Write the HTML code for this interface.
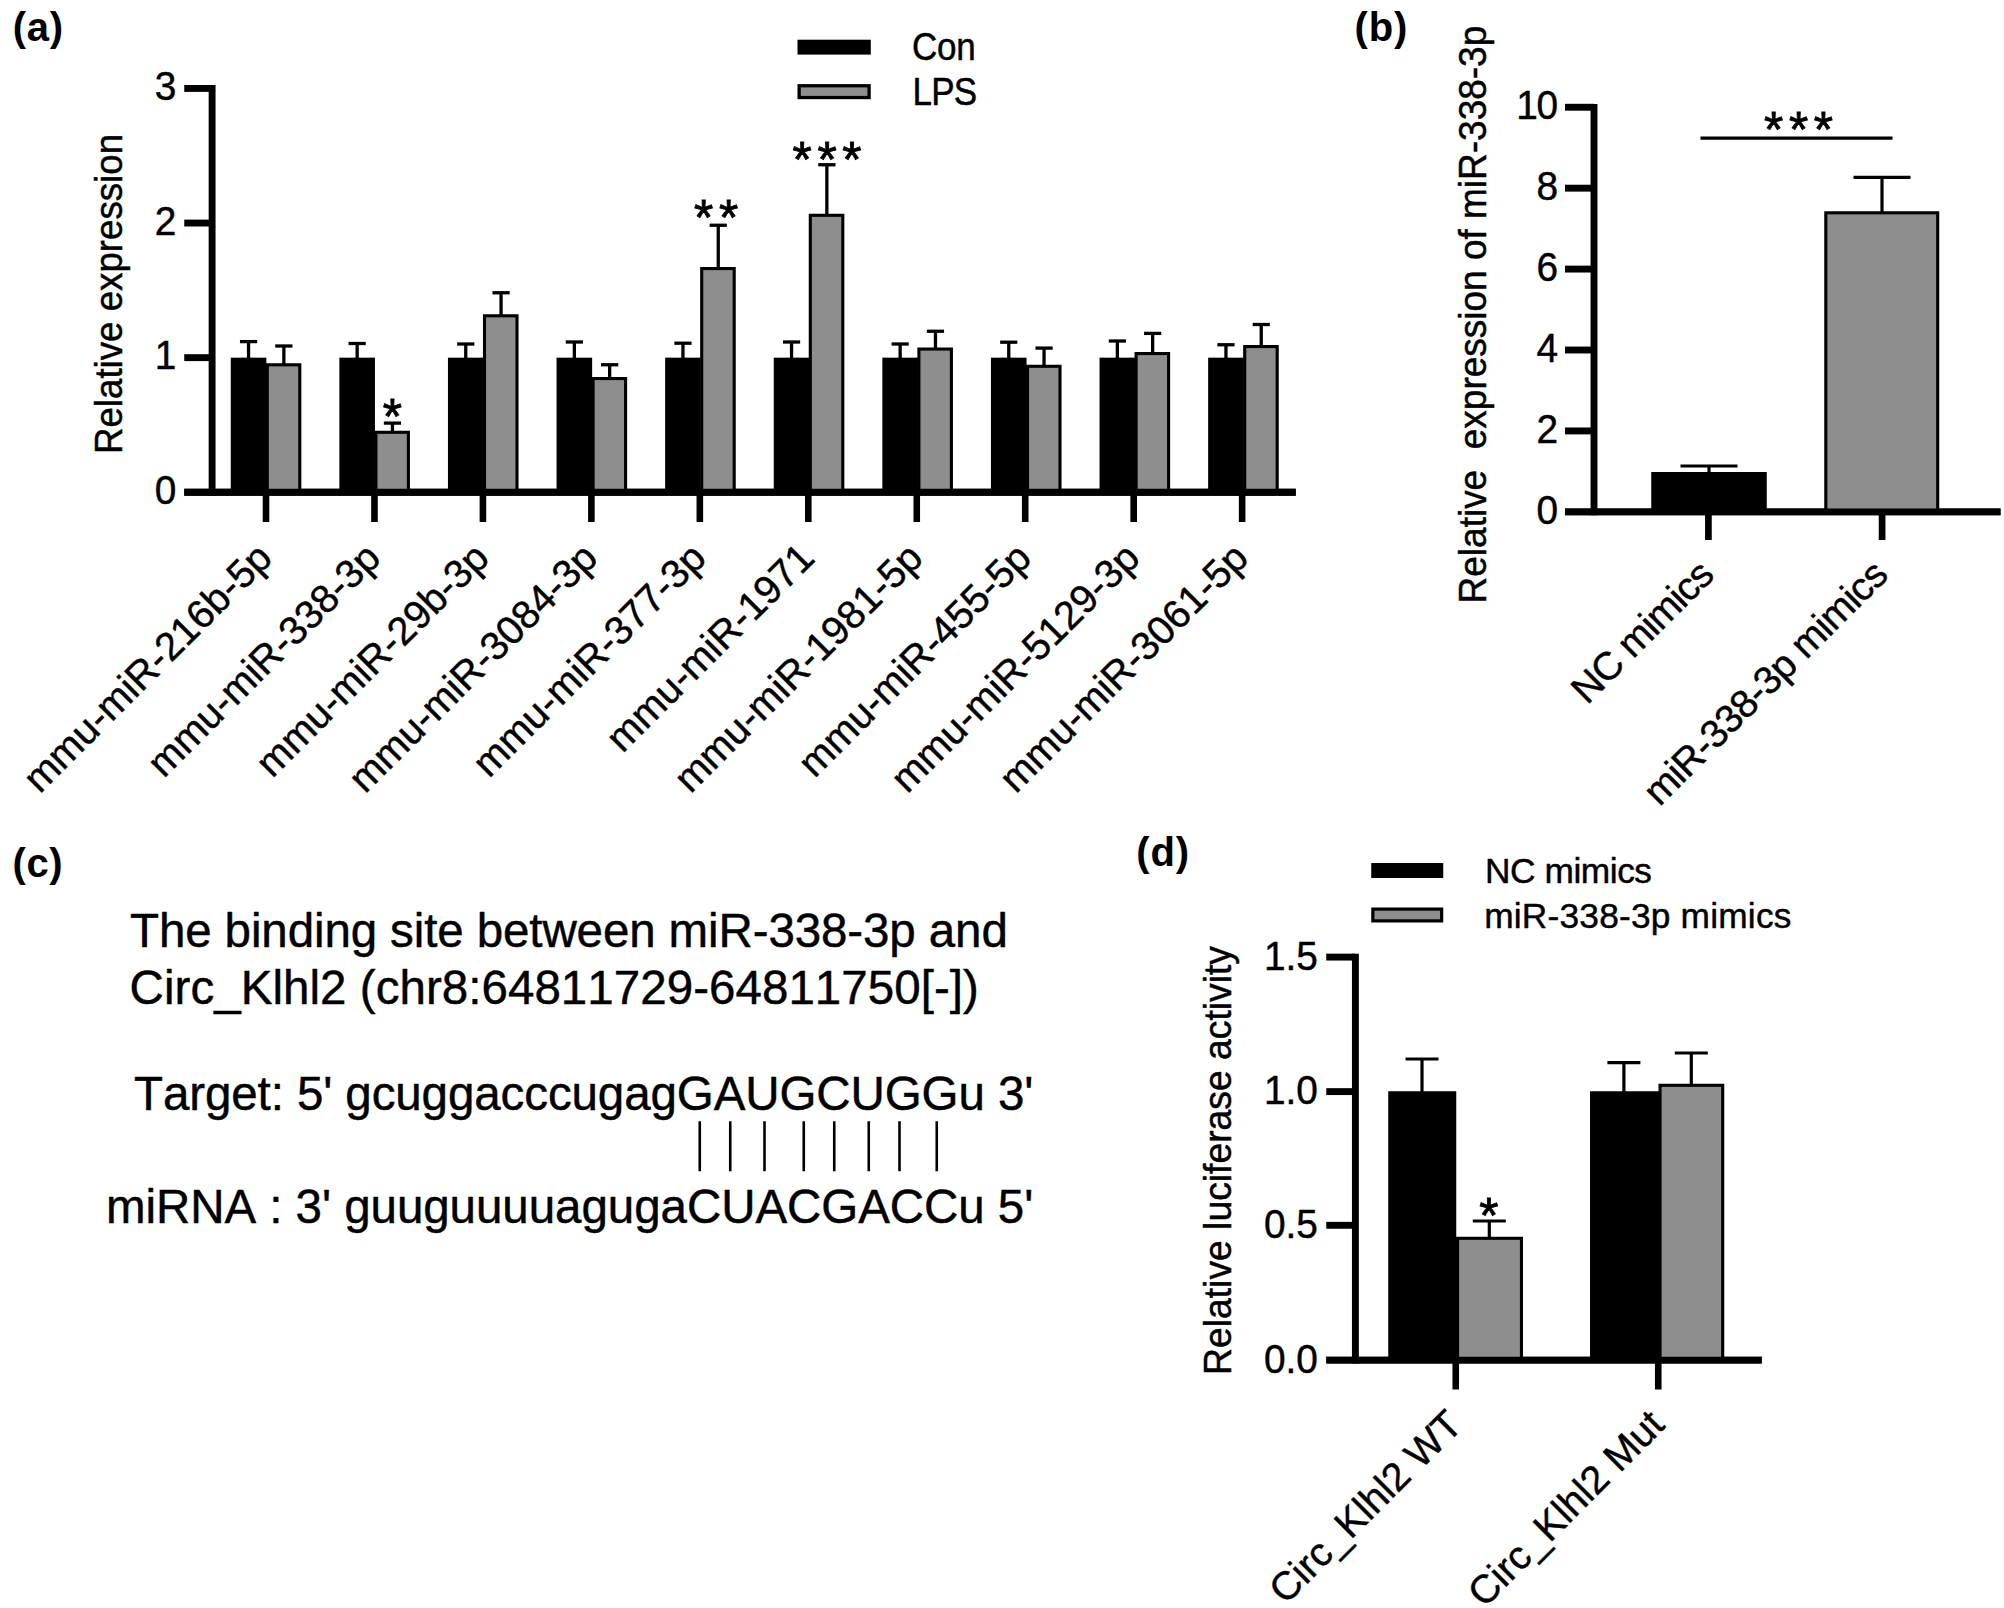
<!DOCTYPE html>
<html lang="en">
<head>
<meta charset="utf-8">
<title>Figure: miR-338-3p and Circ_Klhl2</title>
<style>
html,body{margin:0;padding:0;background:#fff;}
svg{display:block;}
text{font-family:"Liberation Sans",Arial,Helvetica,sans-serif;fill:#000;white-space:pre;font-kerning:none;stroke:#000;stroke-width:0.45px;stroke-linejoin:round;}
text.lab{stroke-width:0;}
text.star{stroke-width:0.85px;stroke-linejoin:miter;}
</style>
</head>
<body>
<svg width="2004" height="1608" viewBox="0 0 2004 1608">
<rect x="0" y="0" width="2004" height="1608" fill="#fff"/>
<text x="12.80" y="40.60" font-size="40" font-weight="bold" class="lab" letter-spacing="0.7">(a)</text>
<line x1="212.10" y1="85.00" x2="212.10" y2="495.70" stroke="#000" stroke-width="6.9"/>
<line x1="184.25" y1="492.25" x2="1295.75" y2="492.25" stroke="#000" stroke-width="6.9"/>
<text transform="translate(176.40 504.05) scale(1.0 1.045)" font-size="38.8" text-anchor="end">0</text>
<line x1="184.25" y1="357.65" x2="212.10" y2="357.65" stroke="#000" stroke-width="6.9"/>
<text transform="translate(176.40 369.45) scale(1.0 1.045)" font-size="38.8" text-anchor="end">1</text>
<line x1="184.25" y1="223.05" x2="212.10" y2="223.05" stroke="#000" stroke-width="6.9"/>
<text transform="translate(176.40 234.85) scale(1.0 1.045)" font-size="38.8" text-anchor="end">2</text>
<line x1="184.25" y1="88.45" x2="212.10" y2="88.45" stroke="#000" stroke-width="6.9"/>
<text transform="translate(176.40 100.25) scale(1.0 1.045)" font-size="38.8" text-anchor="end">3</text>
<text transform="translate(122.00 294.00) rotate(-90) scale(1.0 1.045)" font-size="36.7" text-anchor="middle">Relative expression</text>
<line x1="248.55" y1="341.60" x2="248.55" y2="360.00" stroke="#000" stroke-width="3.3"/>
<line x1="239.95" y1="341.60" x2="257.15" y2="341.60" stroke="#000" stroke-width="3.3"/>
<line x1="283.85" y1="346.00" x2="283.85" y2="365.25" stroke="#000" stroke-width="3.3"/>
<line x1="275.25" y1="346.00" x2="292.45" y2="346.00" stroke="#000" stroke-width="3.3"/>
<rect x="230.75" y="357.65" width="35.60" height="134.60" fill="#000"/>
<rect x="267.30" y="364.80" width="32.50" height="126.90" fill="#8e8e8e" stroke="#000" stroke-width="3.1"/>
<line x1="266.00" y1="492.25" x2="266.00" y2="522.00" stroke="#000" stroke-width="6.6"/>
<text x="274.20" y="560.00" font-size="39.8" text-anchor="end" transform="rotate(-45 274.20 560.00)">mmu-miR-216b-5p</text>
<line x1="357.15" y1="343.50" x2="357.15" y2="360.00" stroke="#000" stroke-width="3.3"/>
<line x1="348.55" y1="343.50" x2="365.75" y2="343.50" stroke="#000" stroke-width="3.3"/>
<line x1="392.45" y1="423.10" x2="392.45" y2="432.75" stroke="#000" stroke-width="3.3"/>
<line x1="383.85" y1="423.10" x2="401.05" y2="423.10" stroke="#000" stroke-width="3.3"/>
<rect x="339.35" y="357.65" width="35.60" height="134.60" fill="#000"/>
<rect x="375.90" y="432.30" width="32.50" height="59.40" fill="#8e8e8e" stroke="#000" stroke-width="3.1"/>
<line x1="374.46" y1="492.25" x2="374.46" y2="522.00" stroke="#000" stroke-width="6.6"/>
<text x="382.66" y="560.00" font-size="39.8" text-anchor="end" transform="rotate(-45 382.66 560.00)">mmu-miR-338-3p</text>
<line x1="465.75" y1="344.00" x2="465.75" y2="360.00" stroke="#000" stroke-width="3.3"/>
<line x1="457.15" y1="344.00" x2="474.35" y2="344.00" stroke="#000" stroke-width="3.3"/>
<line x1="501.05" y1="292.75" x2="501.05" y2="316.25" stroke="#000" stroke-width="3.3"/>
<line x1="492.45" y1="292.75" x2="509.65" y2="292.75" stroke="#000" stroke-width="3.3"/>
<rect x="447.95" y="357.65" width="35.60" height="134.60" fill="#000"/>
<rect x="484.50" y="315.80" width="32.50" height="175.90" fill="#8e8e8e" stroke="#000" stroke-width="3.1"/>
<line x1="482.92" y1="492.25" x2="482.92" y2="522.00" stroke="#000" stroke-width="6.6"/>
<text x="491.12" y="560.00" font-size="39.8" text-anchor="end" transform="rotate(-45 491.12 560.00)">mmu-miR-29b-3p</text>
<line x1="574.35" y1="342.00" x2="574.35" y2="360.00" stroke="#000" stroke-width="3.3"/>
<line x1="565.75" y1="342.00" x2="582.95" y2="342.00" stroke="#000" stroke-width="3.3"/>
<line x1="609.65" y1="364.75" x2="609.65" y2="379.00" stroke="#000" stroke-width="3.3"/>
<line x1="601.05" y1="364.75" x2="618.25" y2="364.75" stroke="#000" stroke-width="3.3"/>
<rect x="556.55" y="357.65" width="35.60" height="134.60" fill="#000"/>
<rect x="593.10" y="378.55" width="32.50" height="113.15" fill="#8e8e8e" stroke="#000" stroke-width="3.1"/>
<line x1="591.38" y1="492.25" x2="591.38" y2="522.00" stroke="#000" stroke-width="6.6"/>
<text x="599.58" y="560.00" font-size="39.8" text-anchor="end" transform="rotate(-45 599.58 560.00)">mmu-miR-3084-3p</text>
<line x1="682.95" y1="343.20" x2="682.95" y2="360.00" stroke="#000" stroke-width="3.3"/>
<line x1="674.35" y1="343.20" x2="691.55" y2="343.20" stroke="#000" stroke-width="3.3"/>
<line x1="718.25" y1="225.25" x2="718.25" y2="269.00" stroke="#000" stroke-width="3.3"/>
<line x1="709.65" y1="225.25" x2="726.85" y2="225.25" stroke="#000" stroke-width="3.3"/>
<rect x="665.15" y="357.65" width="35.60" height="134.60" fill="#000"/>
<rect x="701.70" y="268.55" width="32.50" height="223.15" fill="#8e8e8e" stroke="#000" stroke-width="3.1"/>
<line x1="699.84" y1="492.25" x2="699.84" y2="522.00" stroke="#000" stroke-width="6.6"/>
<text x="708.04" y="560.00" font-size="39.8" text-anchor="end" transform="rotate(-45 708.04 560.00)">mmu-miR-377-3p</text>
<line x1="791.55" y1="342.00" x2="791.55" y2="360.00" stroke="#000" stroke-width="3.3"/>
<line x1="782.95" y1="342.00" x2="800.15" y2="342.00" stroke="#000" stroke-width="3.3"/>
<line x1="826.85" y1="164.75" x2="826.85" y2="215.75" stroke="#000" stroke-width="3.3"/>
<line x1="818.25" y1="164.75" x2="835.45" y2="164.75" stroke="#000" stroke-width="3.3"/>
<rect x="773.75" y="357.65" width="35.60" height="134.60" fill="#000"/>
<rect x="810.30" y="215.30" width="32.50" height="276.40" fill="#8e8e8e" stroke="#000" stroke-width="3.1"/>
<line x1="808.30" y1="492.25" x2="808.30" y2="522.00" stroke="#000" stroke-width="6.6"/>
<text x="816.50" y="560.00" font-size="39.8" text-anchor="end" transform="rotate(-45 816.50 560.00)">mmu-miR-1971</text>
<line x1="900.15" y1="344.00" x2="900.15" y2="360.00" stroke="#000" stroke-width="3.3"/>
<line x1="891.55" y1="344.00" x2="908.75" y2="344.00" stroke="#000" stroke-width="3.3"/>
<line x1="935.45" y1="331.25" x2="935.45" y2="349.50" stroke="#000" stroke-width="3.3"/>
<line x1="926.85" y1="331.25" x2="944.05" y2="331.25" stroke="#000" stroke-width="3.3"/>
<rect x="882.35" y="357.65" width="35.60" height="134.60" fill="#000"/>
<rect x="918.90" y="349.05" width="32.50" height="142.65" fill="#8e8e8e" stroke="#000" stroke-width="3.1"/>
<line x1="916.76" y1="492.25" x2="916.76" y2="522.00" stroke="#000" stroke-width="6.6"/>
<text x="924.96" y="560.00" font-size="39.8" text-anchor="end" transform="rotate(-45 924.96 560.00)">mmu-miR-1981-5p</text>
<line x1="1008.75" y1="342.20" x2="1008.75" y2="360.00" stroke="#000" stroke-width="3.3"/>
<line x1="1000.15" y1="342.20" x2="1017.35" y2="342.20" stroke="#000" stroke-width="3.3"/>
<line x1="1044.05" y1="348.10" x2="1044.05" y2="366.75" stroke="#000" stroke-width="3.3"/>
<line x1="1035.45" y1="348.10" x2="1052.65" y2="348.10" stroke="#000" stroke-width="3.3"/>
<rect x="990.95" y="357.65" width="35.60" height="134.60" fill="#000"/>
<rect x="1027.50" y="366.30" width="32.50" height="125.40" fill="#8e8e8e" stroke="#000" stroke-width="3.1"/>
<line x1="1025.22" y1="492.25" x2="1025.22" y2="522.00" stroke="#000" stroke-width="6.6"/>
<text x="1033.42" y="560.00" font-size="39.8" text-anchor="end" transform="rotate(-45 1033.42 560.00)">mmu-miR-455-5p</text>
<line x1="1117.35" y1="341.00" x2="1117.35" y2="360.00" stroke="#000" stroke-width="3.3"/>
<line x1="1108.75" y1="341.00" x2="1125.95" y2="341.00" stroke="#000" stroke-width="3.3"/>
<line x1="1152.65" y1="333.40" x2="1152.65" y2="354.00" stroke="#000" stroke-width="3.3"/>
<line x1="1144.05" y1="333.40" x2="1161.25" y2="333.40" stroke="#000" stroke-width="3.3"/>
<rect x="1099.55" y="357.65" width="35.60" height="134.60" fill="#000"/>
<rect x="1136.10" y="353.55" width="32.50" height="138.15" fill="#8e8e8e" stroke="#000" stroke-width="3.1"/>
<line x1="1133.68" y1="492.25" x2="1133.68" y2="522.00" stroke="#000" stroke-width="6.6"/>
<text x="1141.88" y="560.00" font-size="39.8" text-anchor="end" transform="rotate(-45 1141.88 560.00)">mmu-miR-5129-3p</text>
<line x1="1225.95" y1="344.75" x2="1225.95" y2="360.00" stroke="#000" stroke-width="3.3"/>
<line x1="1217.35" y1="344.75" x2="1234.55" y2="344.75" stroke="#000" stroke-width="3.3"/>
<line x1="1261.25" y1="324.50" x2="1261.25" y2="347.00" stroke="#000" stroke-width="3.3"/>
<line x1="1252.65" y1="324.50" x2="1269.85" y2="324.50" stroke="#000" stroke-width="3.3"/>
<rect x="1208.15" y="357.65" width="35.60" height="134.60" fill="#000"/>
<rect x="1244.70" y="346.55" width="32.50" height="145.15" fill="#8e8e8e" stroke="#000" stroke-width="3.1"/>
<line x1="1242.14" y1="492.25" x2="1242.14" y2="522.00" stroke="#000" stroke-width="6.6"/>
<text x="1250.34" y="560.00" font-size="39.8" text-anchor="end" transform="rotate(-45 1250.34 560.00)">mmu-miR-3061-5p</text>
<line x1="184.25" y1="492.25" x2="1295.75" y2="492.25" stroke="#000" stroke-width="6.9"/>
<text x="392.50" y="433.80" font-size="49.5" text-anchor="middle" class="star">*</text>
<text x="718.90" y="234.80" font-size="49.5" text-anchor="middle" class="star" letter-spacing="5.6">**</text>
<text x="829.90" y="177.30" font-size="49.5" text-anchor="middle" class="star" letter-spacing="5.6">***</text>
<rect x="797.50" y="39.70" width="73.30" height="14.90" fill="#000"/>
<rect x="799.15" y="85.75" width="69.95" height="11.80" fill="#8e8e8e" stroke="#000" stroke-width="3.3"/>
<text transform="translate(912.00 60.30) scale(1.0 1.095)" font-size="35" letter-spacing="-0.2">Con</text>
<text transform="translate(912.60 105.00) scale(1.0 1.095)" font-size="35" letter-spacing="-0.8">LPS</text>
<text x="1354.60" y="41.30" font-size="40" font-weight="bold" class="lab" letter-spacing="0.8">(b)</text>
<line x1="1594.00" y1="103.90" x2="1594.00" y2="515.30" stroke="#000" stroke-width="6.9"/>
<line x1="1565.00" y1="511.85" x2="2000.50" y2="511.85" stroke="#000" stroke-width="6.9"/>
<text transform="translate(1557.00 523.75) scale(1.0 1.045)" font-size="38.8" text-anchor="end" letter-spacing="-1.2">0</text>
<line x1="1565.00" y1="430.93" x2="1594.00" y2="430.93" stroke="#000" stroke-width="6.9"/>
<text transform="translate(1557.00 442.83) scale(1.0 1.045)" font-size="38.8" text-anchor="end" letter-spacing="-1.2">2</text>
<line x1="1565.00" y1="350.01" x2="1594.00" y2="350.01" stroke="#000" stroke-width="6.9"/>
<text transform="translate(1557.00 361.91) scale(1.0 1.045)" font-size="38.8" text-anchor="end" letter-spacing="-1.2">4</text>
<line x1="1565.00" y1="269.09" x2="1594.00" y2="269.09" stroke="#000" stroke-width="6.9"/>
<text transform="translate(1557.00 280.99) scale(1.0 1.045)" font-size="38.8" text-anchor="end" letter-spacing="-1.2">6</text>
<line x1="1565.00" y1="188.17" x2="1594.00" y2="188.17" stroke="#000" stroke-width="6.9"/>
<text transform="translate(1557.00 200.07) scale(1.0 1.045)" font-size="38.8" text-anchor="end" letter-spacing="-1.2">8</text>
<line x1="1565.00" y1="107.25" x2="1594.00" y2="107.25" stroke="#000" stroke-width="6.9"/>
<text transform="translate(1557.00 119.15) scale(1.0 1.045)" font-size="38.8" text-anchor="end" letter-spacing="-1.2">10</text>
<text transform="translate(1485.60 314.60) rotate(-90) scale(1.0 1.045)" font-size="37.0" text-anchor="middle">Relative  expression of miR-338-3p</text>
<line x1="1709.00" y1="466.00" x2="1709.00" y2="474.00" stroke="#000" stroke-width="3.2"/>
<line x1="1680.50" y1="466.00" x2="1737.50" y2="466.00" stroke="#000" stroke-width="3.2"/>
<line x1="1882.00" y1="177.40" x2="1882.00" y2="214.00" stroke="#000" stroke-width="3.2"/>
<line x1="1853.50" y1="177.40" x2="1910.50" y2="177.40" stroke="#000" stroke-width="3.2"/>
<rect x="1651.25" y="472.00" width="115.50" height="39.85" fill="#000"/>
<rect x="1825.80" y="212.80" width="111.90" height="298.50" fill="#8e8e8e" stroke="#000" stroke-width="3.1"/>
<line x1="1565.00" y1="511.85" x2="2000.50" y2="511.85" stroke="#000" stroke-width="6.9"/>
<line x1="1708.40" y1="511.85" x2="1708.40" y2="540.00" stroke="#000" stroke-width="6.7"/>
<line x1="1882.10" y1="511.85" x2="1882.10" y2="540.00" stroke="#000" stroke-width="6.7"/>
<line x1="1700.50" y1="138.10" x2="1892.50" y2="138.10" stroke="#000" stroke-width="3.3"/>
<text x="1801.40" y="146.80" font-size="49.5" text-anchor="middle" class="star" letter-spacing="5.6">***</text>
<text x="1715.50" y="577.20" font-size="39.2" text-anchor="end" transform="rotate(-45 1715.50 577.20)" letter-spacing="-0.9">NC mimics</text>
<text x="1889.50" y="577.20" font-size="39.2" text-anchor="end" transform="rotate(-45 1889.50 577.20)" letter-spacing="-0.72">miR-338-3p mimics</text>
<text x="12.50" y="877.30" font-size="40" font-weight="bold" class="lab" letter-spacing="0.6">(c)</text>
<text x="130.00" y="947.00" font-size="47.5" textLength="877.80" lengthAdjust="spacing">The binding site between miR-338-3p and</text>
<text x="129.60" y="1003.80" font-size="47.5" textLength="849.30" lengthAdjust="spacing">Circ_Klhl2 (chr8:64811729-64811750[-])</text>
<text x="134.00" y="1109.50" font-size="47.5" textLength="899.30" lengthAdjust="spacing">Target: 5' gcuggacccugagGAUGCUGGu 3'</text>
<text x="106.00" y="1223.30" font-size="47.5" textLength="927.30" lengthAdjust="spacing">miRNA : 3' guuguuuuagugaCUACGACCu 5'</text>
<line x1="699.75" y1="1121.25" x2="699.75" y2="1171.25" stroke="#000" stroke-width="2.6"/>
<line x1="730.25" y1="1121.25" x2="730.25" y2="1171.25" stroke="#000" stroke-width="2.6"/>
<line x1="764.50" y1="1121.25" x2="764.50" y2="1171.25" stroke="#000" stroke-width="2.6"/>
<line x1="803.75" y1="1121.25" x2="803.75" y2="1171.25" stroke="#000" stroke-width="2.6"/>
<line x1="834.25" y1="1121.25" x2="834.25" y2="1171.25" stroke="#000" stroke-width="2.6"/>
<line x1="868.75" y1="1121.25" x2="868.75" y2="1171.25" stroke="#000" stroke-width="2.6"/>
<line x1="899.50" y1="1121.25" x2="899.50" y2="1171.25" stroke="#000" stroke-width="2.6"/>
<line x1="936.75" y1="1121.25" x2="936.75" y2="1171.25" stroke="#000" stroke-width="2.6"/>
<text x="1136.30" y="866.20" font-size="40" font-weight="bold" class="lab" letter-spacing="0.8">(d)</text>
<rect x="1371.25" y="863.00" width="72.00" height="15.00" fill="#000"/>
<rect x="1372.85" y="909.10" width="68.80" height="11.80" fill="#8e8e8e" stroke="#000" stroke-width="3.2"/>
<text x="1485.00" y="883.25" font-size="35.3" letter-spacing="-0.45">NC mimics</text>
<text x="1484.20" y="927.50" font-size="35.3" letter-spacing="0.2">miR-338-3p mimics</text>
<line x1="1355.40" y1="953.70" x2="1355.40" y2="1363.55" stroke="#000" stroke-width="6.9"/>
<line x1="1326.25" y1="1360.10" x2="1761.75" y2="1360.10" stroke="#000" stroke-width="6.9"/>
<text transform="translate(1317.80 1372.60) scale(1.0 1.05)" font-size="38.8" text-anchor="end">0.0</text>
<line x1="1326.25" y1="1225.30" x2="1355.40" y2="1225.30" stroke="#000" stroke-width="6.9"/>
<text transform="translate(1317.80 1237.80) scale(1.0 1.05)" font-size="38.8" text-anchor="end">0.5</text>
<line x1="1326.25" y1="1091.60" x2="1355.40" y2="1091.60" stroke="#000" stroke-width="6.9"/>
<text transform="translate(1317.80 1104.10) scale(1.0 1.05)" font-size="38.8" text-anchor="end">1.0</text>
<line x1="1326.25" y1="957.10" x2="1355.40" y2="957.10" stroke="#000" stroke-width="6.9"/>
<text transform="translate(1317.80 969.60) scale(1.0 1.05)" font-size="38.8" text-anchor="end">1.5</text>
<text transform="translate(1230.80 1160.50) rotate(-90) scale(1.0 1.045)" font-size="37.3" text-anchor="middle">Relative luciferase activity</text>
<line x1="1422.00" y1="1059.00" x2="1422.00" y2="1093.00" stroke="#000" stroke-width="3.2"/>
<line x1="1405.50" y1="1059.00" x2="1438.50" y2="1059.00" stroke="#000" stroke-width="3.2"/>
<line x1="1489.30" y1="1221.00" x2="1489.30" y2="1239.00" stroke="#000" stroke-width="3.2"/>
<line x1="1472.80" y1="1221.00" x2="1505.80" y2="1221.00" stroke="#000" stroke-width="3.2"/>
<line x1="1623.90" y1="1062.70" x2="1623.90" y2="1093.00" stroke="#000" stroke-width="3.2"/>
<line x1="1607.40" y1="1062.70" x2="1640.40" y2="1062.70" stroke="#000" stroke-width="3.2"/>
<line x1="1691.30" y1="1053.00" x2="1691.30" y2="1086.00" stroke="#000" stroke-width="3.2"/>
<line x1="1674.80" y1="1053.00" x2="1707.80" y2="1053.00" stroke="#000" stroke-width="3.2"/>
<rect x="1388.25" y="1091.25" width="68.00" height="268.85" fill="#000"/>
<rect x="1457.55" y="1238.30" width="63.90" height="121.25" fill="#8e8e8e" stroke="#000" stroke-width="3.1"/>
<rect x="1590.00" y="1091.25" width="69.50" height="268.85" fill="#000"/>
<rect x="1660.05" y="1085.30" width="62.65" height="274.25" fill="#8e8e8e" stroke="#000" stroke-width="3.1"/>
<line x1="1326.25" y1="1360.10" x2="1761.75" y2="1360.10" stroke="#000" stroke-width="6.9"/>
<line x1="1455.75" y1="1360.10" x2="1455.75" y2="1389.50" stroke="#000" stroke-width="6.6"/>
<line x1="1658.25" y1="1360.10" x2="1658.25" y2="1389.50" stroke="#000" stroke-width="6.6"/>
<text x="1489.00" y="1232.80" font-size="49.5" text-anchor="middle" class="star">*</text>
<text x="1464.30" y="1426.80" font-size="39.6" text-anchor="end" transform="rotate(-45 1464.30 1426.80)">Circ_Klhl2 WT</text>
<text x="1666.30" y="1426.80" font-size="39.6" text-anchor="end" transform="rotate(-45 1666.30 1426.80)">Circ_Klhl2 Mut</text>
</svg>
</body>
</html>
